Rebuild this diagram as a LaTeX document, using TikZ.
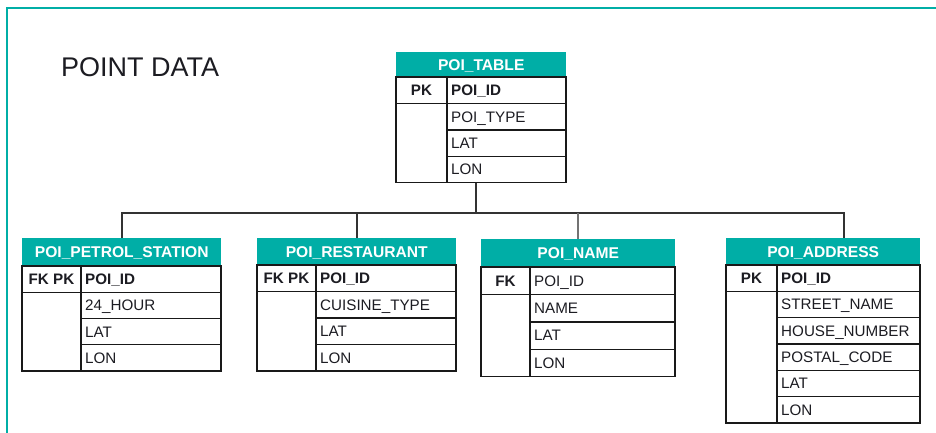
\documentclass[tikz,border=0pt]{standalone}
\usepackage{fontspec}
\setmainfont{Liberation Sans}
\definecolor{tealc}{RGB}{0,174,166}
\definecolor{ink}{RGB}{28,28,34}
\tikzset{
  hdr/.style={fill=tealc, draw=none, text=white, font=\bfseries\fontsize{15.6}{15.6}\selectfont,
    inner sep=0pt, anchor=north west, text height=11pt, text depth=0pt},
  cellline/.style={draw=black!90, line width=1.4pt},
  fld/.style={font=\fontsize{15.2}{15.2}\selectfont, text=ink, anchor=west, inner sep=0pt,
    text height=10.8pt, text depth=0pt},
  keytxt/.style={font=\bfseries\fontsize{15.2}{15.2}\selectfont, text=ink, inner sep=0pt,
    text height=10.8pt, text depth=0pt},
  link/.style={draw=black!80, line width=1.7pt},
  linkgrey/.style={draw=black!55, line width=1.7pt},
}
% #1 name, #2 left, #3 divider, #4 right, #5 top, #6 header bottom, #7 row height, #8 title, #9 key
\newcommand{\erdtable}[9]{%
  \node[hdr, minimum width={#4pt-#2pt}, minimum height={#6pt-#5pt}] (#1) at (#2,#5) {#8};
  \draw[cellline] (#2,#6) rectangle (#3,{#6+#7});
  \node[keytxt] (#1-key) at ({(#2+#3)/2},{#6+#7/2}) {#9};
}
% #1 name, #2 left, #3 divider, #4 right, #5 header bottom, #6 row height, #7 rows, #8 fields
\newcommand{\erdrows}[8]{%
  \foreach \f [count=\i] in {#8} {
    \draw[cellline] (#3,{#5+(\i-1)*#6}) rectangle (#4,{#5+\i*#6});
    \node[fld] (#1-f\i) at ({#3+4},{#5+(\i-0.5)*#6}) {\f};
  }
  \draw[cellline] (#2,{#5+#6}) rectangle (#3,{#5+#7*#6});
}
\begin{document}
\begin{tikzpicture}[x=1pt,y=-1pt]
\useasboundingbox (0,0) rectangle (936,433);
\fill[white] (0,0) rectangle (936,433);
% frame
\draw[tealc, line width=2pt] (6.5,440) -- (6.5,8.3) -- (940,8.3);
% title
\node[font=\fontsize{27}{27}\selectfont, text=ink, anchor=base west, inner sep=0pt] (title) at (61,76.7) {POINT DATA};
% tables
\erdtable{poitable}{396}{447}{566}{52}{77}{26.4}{POI\_TABLE}{PK}
\erdrows{poitable}{396}{447}{566}{77}{26.4}{4}{\textbf{POI\_ID},POI\_TYPE,LAT,LON}
\erdtable{petrol}{22}{81}{221}{238}{266}{26.25}{POI\_PETROL\_STATION}{FK PK}
\erdrows{petrol}{22}{81}{221}{266}{26.25}{4}{\textbf{POI\_ID},24\_HOUR,LAT,LON}
\erdtable{restaurant}{257}{316}{456}{238}{265}{26.5}{POI\_RESTAURANT}{FK PK}
\erdrows{restaurant}{257}{316}{456}{265}{26.5}{4}{\textbf{POI\_ID},CUISINE\_TYPE,LAT,LON}
\erdtable{poiname}{481}{530}{675}{239}{267}{27.4}{POI\_NAME}{FK}
\erdrows{poiname}{481}{530}{675}{267}{27.4}{4}{POI\_ID,NAME,LAT,LON}
\erdtable{address}{726}{777}{920}{238}{265}{26.3}{POI\_ADDRESS}{PK}
\erdrows{address}{726}{777}{920}{265}{26.3}{6}{\textbf{POI\_ID},STREET\_NAME,HOUSE\_NUMBER,POSTAL\_CODE,LAT,LON}
% connectors
\coordinate (poitable-bot) at (476,182.6);
\coordinate (trunk) at (476,213);
\coordinate (address-in) at (844,238);
\draw[link] (poitable-bot) -- (trunk);
\draw[link] (trunk) -| (petrol.north);
\draw[link] (trunk) -| (restaurant.north);
\draw[link] (trunk) -| (address-in);
\draw[linkgrey] (trunk -| poiname.north) -- (poiname.north);
\end{tikzpicture}
\end{document}
